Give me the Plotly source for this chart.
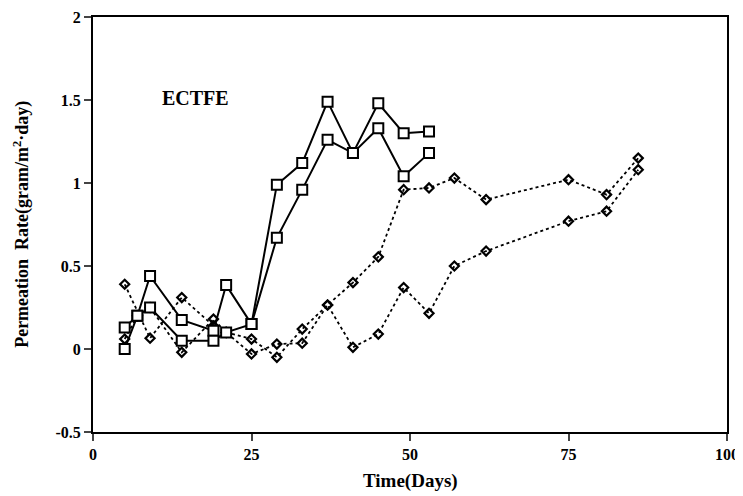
import plotly.graph_objects as go

# Square series (solid lines)
sq_a_days = [5, 7, 9, 14, 19, 21, 25, 29, 33, 37, 41, 45, 49, 53]
sq_a_rate = [0.13, 0.20, 0.44, 0.175, 0.11, 0.385, 0.15, 0.99, 1.12, 1.49, 1.18, 1.48, 1.30, 1.31]
sq_b_days = [5, 7, 9, 14, 19, 21, 25, 29, 33, 37, 41, 45, 49, 53]
sq_b_rate = [0.00, 0.20, 0.25, 0.05, 0.05, 0.10, 0.15, 0.67, 0.96, 1.26, 1.18, 1.33, 1.04, 1.18]

# Diamond series (dotted lines)
dm_c_days = [5, 9, 14, 19, 21, 25, 29, 33, 37, 41, 45, 49, 53, 57, 62, 75, 81, 86]
dm_c_rate = [0.39, 0.065, 0.31, 0.14, 0.10, 0.06, -0.05, 0.12, 0.265, 0.40, 0.555, 0.96, 0.97, 1.03, 0.90, 1.02, 0.93, 1.15]
dm_d_days = [5, 7, 9, 14, 19, 21, 25, 29, 33, 37, 41, 45, 49, 53, 57, 62, 75, 81, 86]
dm_d_rate = [0.06, 0.20, 0.25, -0.02, 0.18, 0.10, -0.03, 0.03, 0.035, 0.265, 0.01, 0.09, 0.37, 0.215, 0.50, 0.59, 0.77, 0.83, 1.08]

x_ticks = [0, 25, 50, 75, 100]
x_tick_text = ["0", "25", "50", "75", "100"]
y_ticks = [-0.5, 0, 0.5, 1, 1.5, 2]
y_tick_text = ["-0.5", "0", "0.5", "1", "1.5", "2"]

FONT = "Liberation Serif"

fig = go.Figure()

for d, r in [(dm_c_days, dm_c_rate), (dm_d_days, dm_d_rate)]:
    fig.add_trace(go.Scatter(
        x=d, y=r, mode="lines+markers",
        line=dict(color="black", width=1.8, dash="dot"),
        marker=dict(symbol="diamond-open", size=7, color="black", line=dict(width=2.2, color="black")),
        showlegend=False,
    ))

for d, r in [(sq_a_days, sq_a_rate), (sq_b_days, sq_b_rate)]:
    fig.add_trace(go.Scatter(
        x=d, y=r, mode="lines+markers",
        line=dict(color="black", width=2),
        marker=dict(symbol="square", size=10, color="white", line=dict(width=2, color="black")),
        showlegend=False,
    ))

fig.add_annotation(x=16.2, y=1.51, text="<b>ECTFE</b>", showarrow=False,
                   font=dict(family=FONT, size=20, color="black"))

# Axis titles placed as paper annotations
fig.add_annotation(xref="paper", yref="paper", x=0.5, y=-0.118, yanchor="middle",
                   text="<b>Time(Days)</b>", showarrow=False,
                   font=dict(family=FONT, size=19, color="black"))
fig.add_annotation(xref="paper", yref="paper", x=-0.113, y=0.5, xanchor="center", yanchor="middle",
                   textangle=-90, text="<b>Permeation  Rate(gram/m<sup>2</sup>·day)</b>", showarrow=False,
                   font=dict(family=FONT, size=18, color="black"))

fig.update_layout(
    width=735, height=488,
    margin=dict(l=85, r=16, t=9, b=64, autoexpand=False),
    paper_bgcolor="white", plot_bgcolor="white",
    font=dict(family=FONT, color="black"),
)
fig.update_xaxes(
    range=[0, 100], tickvals=x_ticks, ticktext=["<b>%s</b>" % t for t in x_tick_text],
    ticks="outside", ticklen=7, tickwidth=2,
    showline=True, linewidth=2, linecolor="black", mirror=True,
    showgrid=False, zeroline=False, automargin=False, ticklabeloverflow="allow",
    tickfont=dict(family=FONT, size=16, color="black"),
)
fig.update_yaxes(
    range=[-0.5, 2], tickvals=y_ticks, ticktext=["<b>%s</b>" % t for t in y_tick_text],
    ticks="outside", ticklen=7, tickwidth=2,
    showline=True, linewidth=2, linecolor="black", mirror=True,
    showgrid=False, zeroline=False, automargin=False, ticklabeloverflow="allow",
    tickfont=dict(family=FONT, size=16, color="black"),
)

fig.write_html("out.html")
